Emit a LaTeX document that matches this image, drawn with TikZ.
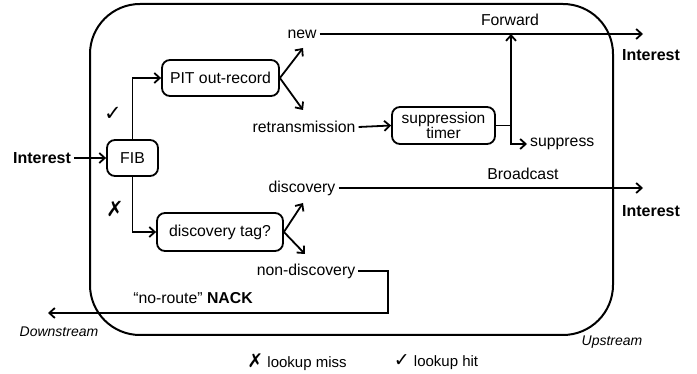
\documentclass[tikz,border=0pt]{standalone}
\usepackage{fontspec}
\setmainfont{Liberation Sans}
\newfontfamily\djfont{DejaVu Sans}
\usetikzlibrary{arrows.meta,positioning,calc}
\tikzset{
  arr/.style={-{Straight Barb[length=5.5pt,width=10pt,line width=1.8pt]}, line width=1.8pt},
  ln/.style={line width=1.8pt},
  box/.style={draw, line width=1.8pt, rounded corners=8pt, align=center, inner sep=2pt},
  txt/.style={inner sep=3pt, align=center},
  bigfont/.style={font=\fontsize{16}{16}\selectfont\bfseries},
}
\begin{document}
\begin{tikzpicture}[x=1pt,y=-1pt, font=\fontsize{15.8}{15.8}\selectfont]
\useasboundingbox (0,0) rectangle (697,374);
% outer frame
\draw[line width=2pt, rounded corners=50pt] (90,4) rectangle (613,335);

% boxes
\node[box, minimum width=51pt, minimum height=36pt] (fib) at (132.5,158) {FIB};
\node[box, minimum width=117pt, minimum height=36pt] (pit) at (220.5,78) {PIT out-record};
\node[box, minimum width=126pt, minimum height=38pt] (dtag) at (220,232) {discovery tag?};
\node[box, minimum width=103pt, minimum height=37pt, font=\fontsize{15.5}{15.5}\selectfont] (sup) at (443.5,125.5) {suppression\\[-1pt]timer};

% texts
\node[txt, bigfont] (inL) at (42,158) {Interest};
\node[txt] (new) at (302,34) {new};
\node[txt] (retx) at (304,127) {retransmission};
\node[txt] (disc) at (302,188) {discovery};
\node[txt] (nondisc) at (306,271) {non-discovery};
\node[txt] (fwd) at (510,20) {Forward};
\node[txt] (bc) at (523,174) {Broadcast};
\node[txt, anchor=west] (supp) at (527,144) {suppress};
\node[txt, bigfont] (inR1) at (651,55) {Interest};
\node[txt, bigfont] (inR2) at (651,211) {Interest};
\node[txt] (nack) at (193,298) {“no-route” \textbf{NACK}};
\node[txt, font=\fontsize{14}{14}\selectfont\itshape] (down) at (59,332) {Downstream};
\node[txt, font=\fontsize{14}{14}\selectfont\itshape] (up) at (612,342) {Upstream};
\node[txt, font=\fontsize{21}{21}\selectfont\djfont] (chk) at (113,114) {✓};
\node[txt, font=\fontsize{21}{21}\selectfont\djfont] (crs) at (115,209) {✗};
\node[txt, font=\fontsize{15}{15}\selectfont] (lmiss) at (297,362) {{\fontsize{19}{19}\selectfont\djfont ✗} lookup miss};
\node[txt, font=\fontsize{15}{15}\selectfont] (lhit) at (436,362) {{\fontsize{19}{19}\selectfont\djfont ✓} lookup hit};

% coordinates
\coordinate (newtip) at (303,48);
\coordinate (retip) at (303,110);
\coordinate (disctip) at (303,203);
\coordinate (ndtip) at (305,254);
\coordinate (fwdend) at (643,34);
\coordinate (bcend) at (643,188);
\coordinate (j) at (511,125.5);
\coordinate (nk1) at (388,271);
\coordinate (nk2) at (388,313);
\coordinate (nkend) at (48,313);

% connectors
\draw[arr] (inL) -- (fib);
\draw[arr] (fib.north) |- (pit.west);
\draw[arr] (fib.south) |- (dtag.west);
\draw[arr] (pit.east) -- (newtip);
\draw[arr] (pit.east) -- (retip);
\draw[arr] (dtag.east) -- (disctip);
\draw[arr] (dtag.east) -- (ndtip);
\draw[arr] (new.east) -- (fwdend);
\draw[arr] (retx.east) -- (sup.west);
\draw[ln] (sup.east) -- (j);
\draw[arr] (j) -- (j |- fwdend);
\draw[arr] (j) |- (supp.west);
\draw[arr] (disc.east) -- (bcend);
\draw[arr] (nondisc.east) -- (nk1) -- (nk2) -- (nkend);
\end{tikzpicture}
\end{document}
